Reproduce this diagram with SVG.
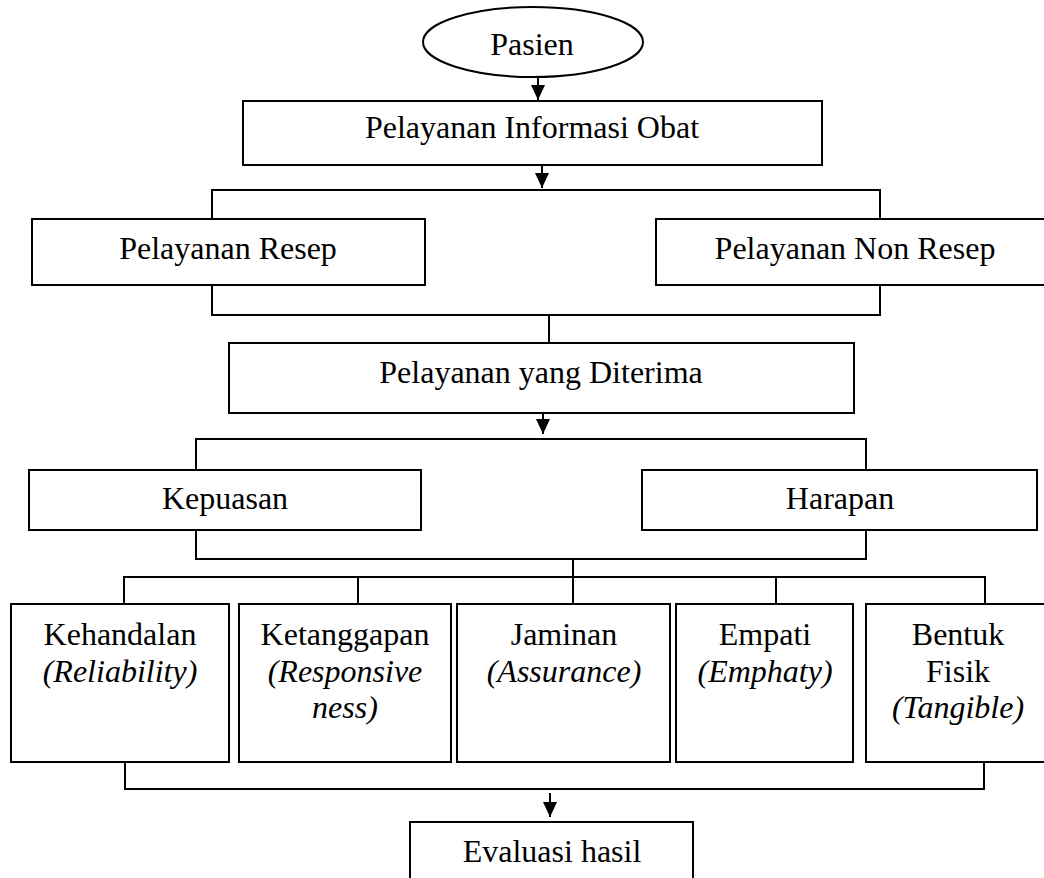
<svg xmlns="http://www.w3.org/2000/svg" width="1044" height="878" viewBox="0 0 1044 878">
<style>
  .bg { fill: #ffffff; }
  .node { fill: #ffffff; stroke: #000000; stroke-width: 2; }
  .conn { fill: none; stroke: #000000; stroke-width: 2; }
  .t { font-family: "Liberation Serif", "Times New Roman", serif; font-size: 32px; fill: #000000; text-anchor: middle; }
  .i { font-style: italic; }
</style>
<defs>
  <marker id="arrow" markerUnits="userSpaceOnUse" markerWidth="15" markerHeight="14" refX="15" refY="7" orient="auto">
    <path d="M0,0 L15,7 L0,14 z" fill="#000000"/>
  </marker>
</defs>
<rect class="bg" x="0" y="0" width="1044" height="878"/>

<g id="connectors">
  <path class="conn" d="M538,78 V100" marker-end="url(#arrow)"/>
  <path class="conn" d="M542,166 V188" marker-end="url(#arrow)"/>
  <path class="conn" d="M212,219 V190 H880 V219"/>
  <path class="conn" d="M212,285 V315 H880 V285"/>
  <path class="conn" d="M549,315 V343"/>
  <path class="conn" d="M543,414 V434" marker-end="url(#arrow)"/>
  <path class="conn" d="M196,470 V439 H866 V470"/>
  <path class="conn" d="M196,530 V559 H866 V530"/>
  <path class="conn" d="M573,559 V577"/>
  <path class="conn" d="M124,604 V577 H985 V604"/>
  <path class="conn" d="M358,577 V604 M573,577 V604 M776,577 V604"/>
  <path class="conn" d="M125,762 V789 H984 V762"/>
  <path class="conn" d="M550,793 V817" marker-end="url(#arrow)"/>
</g>

<g id="pasien">
  <ellipse class="node" cx="533" cy="42" rx="110" ry="35"/>
  <text class="t" x="532" y="55">Pasien</text>
</g>
<g id="pio">
  <rect class="node" x="243" y="101" width="579" height="64"/>
  <text class="t" x="532" y="138">Pelayanan Informasi Obat</text>
</g>
<g id="resep">
  <rect class="node" x="32" y="219" width="393" height="66"/>
  <text class="t" x="228" y="259">Pelayanan Resep</text>
</g>
<g id="nonresep">
  <rect class="node" x="656" y="219" width="400" height="66"/>
  <text class="t" x="855" y="259">Pelayanan Non Resep</text>
</g>
<g id="diterima">
  <rect class="node" x="229" y="343" width="625" height="70"/>
  <text class="t" x="541" y="383">Pelayanan yang Diterima</text>
</g>
<g id="kepuasan">
  <rect class="node" x="29" y="470" width="392" height="60"/>
  <text class="t" x="225" y="509">Kepuasan</text>
</g>
<g id="harapan">
  <rect class="node" x="642" y="470" width="395" height="60"/>
  <text class="t" x="840" y="509">Harapan</text>
</g>
<g id="kehandalan">
  <rect class="node" x="11" y="604" width="218" height="158"/>
  <text class="t" x="120" y="645">Kehandalan</text>
  <text class="t i" x="120" y="682">(Reliability)</text>
</g>
<g id="ketanggapan">
  <rect class="node" x="239" y="604" width="212" height="158"/>
  <text class="t" x="345" y="645">Ketanggapan</text>
  <text class="t i" x="345" y="682">(Responsive</text>
  <text class="t i" x="345" y="718">ness)</text>
</g>
<g id="jaminan">
  <rect class="node" x="457" y="604" width="213" height="158"/>
  <text class="t" x="564" y="645">Jaminan</text>
  <text class="t i" x="564" y="682">(Assurance)</text>
</g>
<g id="empati">
  <rect class="node" x="676" y="604" width="177" height="158"/>
  <text class="t" x="765" y="645">Empati</text>
  <text class="t i" x="765" y="682">(Emphaty)</text>
</g>
<g id="bentukfisik">
  <rect class="node" x="866" y="604" width="190" height="158"/>
  <text class="t" x="958" y="645">Bentuk</text>
  <text class="t" x="958" y="682">Fisik</text>
  <text class="t i" x="958" y="718">(Tangible)</text>
</g>
<g id="evaluasi">
  <rect class="node" x="410" y="822" width="283" height="70"/>
  <text class="t" x="552" y="862">Evaluasi hasil</text>
</g>
</svg>
